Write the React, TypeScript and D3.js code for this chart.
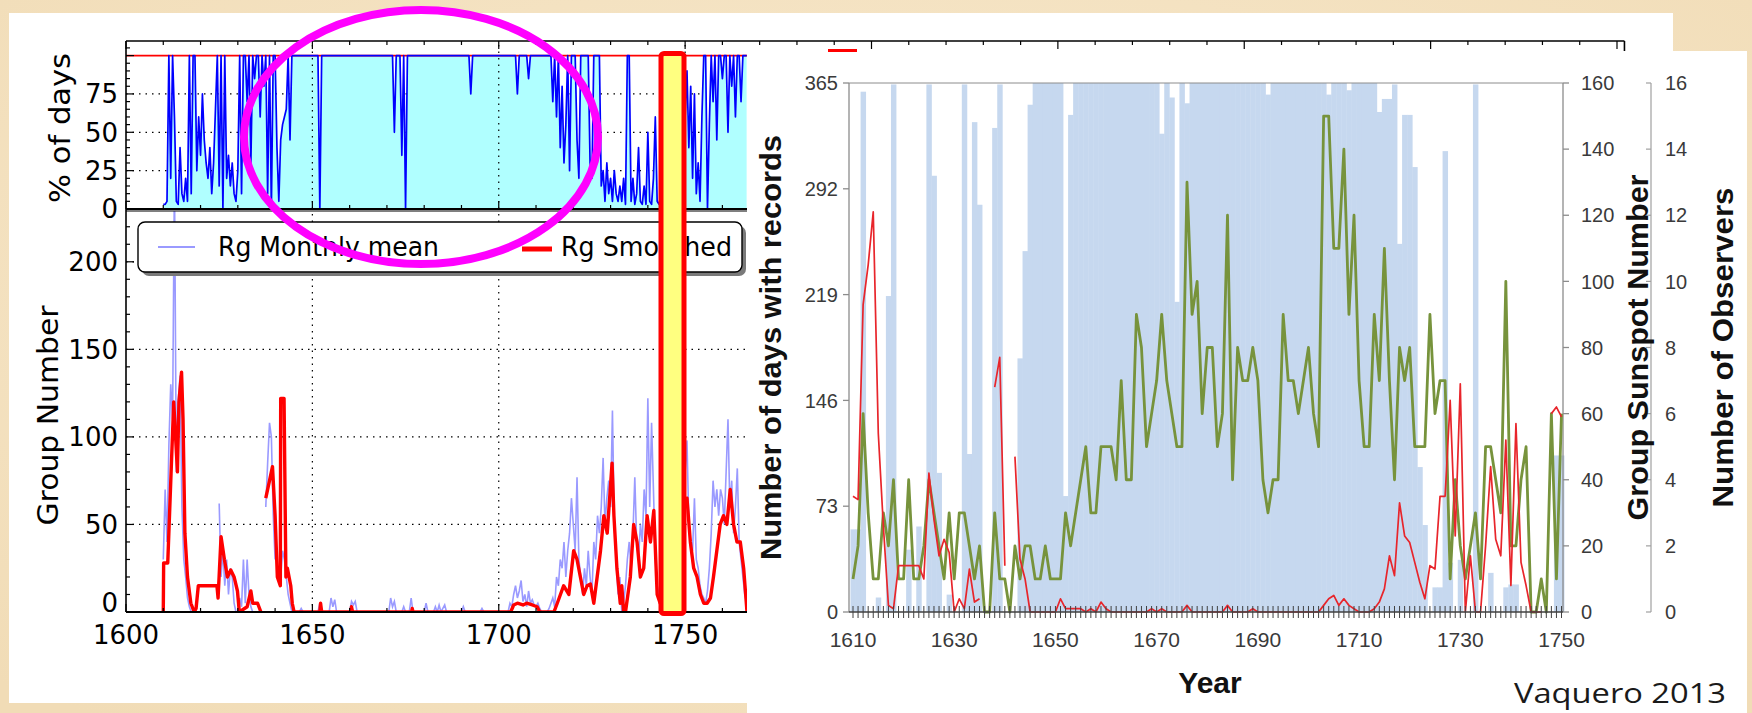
import React from "react";
import * as d3 from "d3";

// ================= LEFT CHART (Group number, 1600-1766) =================
const halfYear = 0.5;
const pctStartYear = 1610;
// % of days with observations, half-year samples from 1610.0
const pctDays: number[] = [
  3, 3, 5, 100, 20, 100, 60, 5, 3, 40, 10, 5, 20, 5, 100, 10, 100, 100, 25, 60,
  35, 75, 45, 30, 20, 40, 10, 30, 65, 100, 15, 100, 0, 100, 20, 35, 15, 30, 10, 5,
  25, 100, 10, 100, 100, 70, 100, 30, 100, 85, 100, 100, 60, 100, 80, 100, 10, 100, 0, 100,
  100, 40, 5, 45, 55, 60, 65, 100, 45, 100, 100, 100, 100, 100, 100, 100, 100, 100, 100, 100,
  100, 100, 100, 100, 0, 100, 100, 100, 100, 100, 100, 100, 100, 100, 100, 100, 100, 100, 100, 100,
  100, 100, 100, 100, 100, 100, 100, 100, 100, 100, 100, 100, 100, 100, 100, 100, 100, 100, 100, 100,
  100, 100, 100, 100, 50, 100, 100, 100, 35, 100, 0, 100, 100, 100, 100, 100, 100, 100, 100, 100,
  100, 100, 100, 100, 100, 100, 100, 100, 100, 100, 100, 100, 100, 100, 100, 100, 100, 100, 100, 100,
  100, 100, 100, 100, 100, 75, 100, 100, 100, 100, 100, 100, 100, 100, 100, 100, 100, 100, 100, 100,
  100, 100, 100, 100, 100, 100, 100, 100, 100, 100, 75, 100, 100, 100, 100, 100, 85, 100, 100, 100,
  100, 100, 100, 100, 100, 100, 100, 100, 100, 70, 100, 60, 100, 40, 80, 30, 55, 100, 25, 100,
  100, 100, 45, 20, 100, 100, 100, 100, 100, 30, 20, 100, 100, 100, 100, 15, 25, 5, 30, 10,
  20, 5, 25, 10, 5, 15, 5, 20, 3, 100, 100, 5, 20, 3, 10, 40, 5, 3, 15, 3,
  50, 5, 3, 20, 60, 5, 3, 10, 15, 10, 20, 5, 10, 15, 5, 20, 10, 15, 25, 10,
  60, 90, 40, 80, 20, 75, 10, 30, 5, 60, 100, 100, 0, 55, 100, 70, 100, 45, 100, 100,
  85, 100, 100, 50, 100, 80, 100, 60, 100, 100, 70, 100, 100, 100,
];

const rgStartYear = 1610;
// Rg monthly mean, sampled every half year from 1610.0 (null = no data)
const rgMonthly: (number | null)[] = [
  30, 70, 40, 95, 130, 110, 250, 80, 120, 135, 60, 30, 20, 8, 3, 0, 0, null, null, null,
  null, null, null, null, null, null, null, null, null, null, 62, 20, 35, 15, 30, 10, 25, 20, 5, 0,
  0, 8, 3, 30, 5, 30, 10, 3, 0, 0, 0, null, null, null, null, 60, 85, 108, 100, 55,
  30, null, null, 20, 35, 30, 20, 10, 5, 0, 0, 0, 0, 0, 2, 0, 0, 0, 0, 0,
  0, 0, 0, 0, 5, 0, 0, 0, 0, 0, 8, 3, 7, 0, 0, 0, 0, 0, 0, 0,
  0, 6, 4, 6, 0, 0, 0, 0, 0, 0, 0, 0, 0, 0, 0, 0, 0, 0, 0, 0,
  0, 0, 8, 3, 6, 0, 0, 0, 0, 3, 0, 0, 0, 8, 0, 0, 0, 0, 0, 0,
  0, 5, 0, 0, 0, 0, 3, 0, 4, 0, 2, 4, 0, 0, 0, 0, 0, 0, 0, 0,
  0, 3, 0, 0, 0, 0, 0, 0, 0, 0, 0, 2, 0, 0, 0, 0, 0, 0, 0, 0,
  0, 0, 0, 0, 0, 0, 5, 3, 10, 15, 8, 12, 18, 6, 10, 3, 12, 5, 7, 4,
  3, 5, 2, 0, 0, 0, 0, 2, 5, 8, 3, 20, 15, 30, 25, 40, 20, 35, 45, 65,
  50, 35, 77, 30, 20, 10, 25, 15, 35, 20, 10, 40, 30, 55, 45, 60, 88, 50, 65, 75,
  60, 115, 50, 30, 10, 20, 0, 5, 15, 30, 40, 25, 45, 77, 40, 30, 50, 40, 70, 55,
  122, 60, 108, 70, 30, 15, 10, 5, 20, 30, 45, 60, 70, 65, 80, 70, 75, 60, 85, 70,
  80, 98, 50, 40, 35, 65, 30, 25, 15, 10, 8, 5, 12, 25, 45, 75, 60, 70, 55, 70,
  65, 50, 80, 110, 60, 75, 45, 60, 82, 40, 30, 20, 10, 5,
];

// Rg smoothed (13-month) vertices; null marks a break in the curve
const rgSmoothYears: (number | null)[] = [
  1610.0, 1610.1, 1611.2, 1612.1, 1612.8, 1613.3, 1613.8, 1614.2, 1614.9, 1615.3, 1615.8, 1616.5,
  1617.4, 1618.3, 1618.8, 1619.4, 1624.4, 1624.7, 1625.5, 1626.4, 1627.2, 1628.1, 1629.0, 1629.9,
  1630.4, 1632.5, 1633.5, 1634.0, 1635.3, 1636.2, null,
  1637.5, 1638.5, 1639.3, 1640.0, 1640.6, 1641.4, 1641.5, 1642.4, 1642.9, 1643.3, 1644.2, 1644.6,
  1645.1, 1652.0, 1652.2, 1652.5, 1660.3, 1660.5, 1660.8, 1676.6, 1676.8, 1677.0, 1703.2, 1704.0,
  1705.0, 1706.5, 1707.5, 1709.0, 1710.3, 1711.0, 1714.8, 1715.7, 1717.4, 1718.8, 1720.1, 1721.0,
  1721.9, 1722.8, 1723.7, 1724.6, 1725.5, 1726.4, 1727.3, 1728.2, 1729.1, 1730.4, 1730.9, 1731.7,
  1732.6, 1733.0, 1733.5, 1734.0, 1735.3, 1736.2, 1737.1, 1738.0, 1738.9, 1739.8, 1740.7, 1741.6,
  1742.5, 1743.3, 1744.5, 1746.0, 1747.3, 1748.2, 1749.5, 1750.5, 1751.4, 1752.3, 1753.2, 1754.1,
  1755.0, 1755.9, 1756.8, 1757.6, 1758.5, 1759.4, 1760.3, 1761.2, 1762.1, 1763.0, 1763.9, 1764.8,
  1765.7, 1766.6,
];
const rgSmoothValues: (number | null)[] = [
  0, 28, 28, 80, 120, 100, 80, 120, 137, 110, 45, 20,
  5, 0, 2, 15, 15, 8, 43, 30, 20, 24, 20, 12,
  0, 3, 12, 5, 5, 0, null,
  65, 75, 83, 55, 20, 15, 122, 122, 20, 25, 15, 5,
  0, 0, 5, 0, 0, 3, 0, 0, 2, 0, 0, 4,
  5, 4, 5, 4, 3, 0, 0, 5, 15, 10, 35, 30,
  20, 10, 15, 16, 5, 20, 35, 55, 45, 85, 55, 25,
  5, 15, 0, 0, 20, 50, 40, 20, 25, 55, 40, 58,
  10, 5, 15, 30, 50, 62, 60, 65, 40, 25, 20, 10,
  5, 5, 8, 20, 35, 50, 55, 50, 70, 50, 40, 40,
  25, 0,
];

const leftYearTicks = [1600, 1650, 1700, 1750];
const pctTicks = [0, 25, 50, 75];
const rgTicks = [0, 50, 100, 150, 200];

// ================= RIGHT CHART (Vaquero 2013, 1610-1750) =================
const vqStartYear = 1610;
const daysWithRecords: number[] = [
  57, 57, 359, 0, 0, 10, 0, 218, 364, 0,
  0, 43, 0, 59, 0, 364, 301, 96, 0, 12,
  0, 0, 364, 109, 338, 281, 0, 0, 334, 364,
  0, 0, 0, 175, 249, 350, 365, 365, 365, 365,
  365, 365, 80, 343, 365, 365, 365, 365, 365, 365,
  365, 365, 365, 365, 365, 365, 365, 365, 365, 365,
  365, 330, 365, 355, 214, 365, 351, 365, 365, 365,
  365, 365, 365, 365, 365, 365, 365, 365, 365, 365,
  365, 365, 357, 365, 365, 365, 365, 365, 365, 365,
  365, 365, 365, 365, 357, 365, 365, 365, 360, 365,
  365, 365, 365, 365, 345, 354, 354, 364, 254, 343,
  343, 307, 100, 60, 0, 17, 17, 318, 34, 0,
  36, 0, 0, 364, 0, 0, 27, 0, 0, 17,
  19, 19, 0, 0, 0, 0, 0, 0, 0, 108,
  108,
];
const groupSunspot: (number | null)[] = [
  35, 34, 93, 105, 121, 54, 26, 2, 1, 14,
  14, 14, 14, 14, 10, 42, 28, 17, 22, 18,
  0, 4, 1, 13, 3, 4, null, null, 68, 77,
  14, null, 47, 16, 10, 0, 0, 0, 0, 0,
  0, 4, 1, 1, 1, 1, 0, 1, 0, 3,
  1, 0, 0, 0, 0, 0, 0, 0, 0, 1,
  0, 1, 0, 0, 0, 0, 2, 0, 0, 0,
  0, 0, 0, 0, 2, 0, 0, 0, 0, 1,
  0, 0, 0, 0, 0, 0, 0, 0, 0, 0,
  0, 0, 0, 2, 4, 5, 2, 4, 2, 1,
  0, 0, 0, 1, 3, 7, 17, 11, 33, 23,
  21, 15, 9, 4, 14, 13, 35, 35, 64, 23,
  69, 0, 17, 0, 0, 20, 44, 22, 17, 52,
  8, 57, 15, 8, 0, 0, 0, null, 60, 62,
  59,
];
const observers: number[] = [
  1, 2, 6, 3, 1, 1, 3, 2, 4, 1,
  1, 4, 1, 1, 2, 4, 3, 2, 1, 3,
  1, 3, 3, 2, 1, 2, 0, 0, 3, 1,
  1, 0, 2, 1, 2, 2, 1, 1, 2, 1,
  1, 1, 3, 2, 3, 4, 5, 3, 3, 5,
  5, 5, 4, 7, 4, 4, 9, 8, 5, 6,
  7, 9, 7, 6, 5, 5, 13, 9, 10, 6,
  8, 8, 5, 6, 12, 4, 8, 7, 7, 8,
  7, 4, 3, 4, 4, 9, 7, 7, 6, 7,
  8, 6, 5, 15, 15, 11, 11, 14, 9, 12,
  7, 5, 5, 9, 7, 11, 7, 4, 8, 7,
  8, 5, 5, 5, 9, 6, 7, 7, 1, 4,
  2, 1, 2, 3, 1, 5, 5, 4, 3, 10,
  2, 2, 4, 5, 0, 0, 1, 0, 6, 1,
  6,
];
const daysTicks = [0, 73, 146, 219, 292, 365];
const gsnTicks = [0, 20, 40, 60, 80, 100, 120, 140, 160];
const obsTicks = [0, 2, 4, 6, 8, 10, 12, 14, 16];
const vqYearTicks = [1610, 1630, 1650, 1670, 1690, 1710, 1730, 1750];

type P = { x: number; v: number | null };

export default function App() {
  const W = 1752;
  const H = 713;

  // ---------- left scales ----------
  const xL = d3.scaleLinear().domain([1600, 1766.6]).range([126, 747]);
  const yT = d3.scaleLinear().domain([0, 109.5]).range([209, 41]);
  const yB = d3.scaleLinear().domain([0, 229]).range([612, 211]);

  const pctPts: P[] = pctDays.map((v, i) => ({ x: pctStartYear + i * halfYear, v }));
  const areaT = d3
    .area<P>()
    .x((d) => xL(d.x))
    .y0(yT(0))
    .y1((d) => yT(d.v as number));
  const lineT = d3
    .line<P>()
    .x((d) => xL(d.x))
    .y((d) => yT(d.v as number));

  const rgPts: P[] = rgMonthly.map((v, i) => ({ x: rgStartYear + i * halfYear, v }));
  const lineRg = d3
    .line<P>()
    .defined((d) => d.v !== null)
    .x((d) => xL(d.x))
    .y((d) => yB(d.v as number));
  const smPts: P[] = rgSmoothYears.map((y, i) => ({ x: (y ?? 0) as number, v: y === null ? null : rgSmoothValues[i] }));

  const minorYears = d3.range(1600, 2003, 10);

  // ---------- right scales ----------
  const xR = d3.scaleLinear().domain([1610, 1750]).range([853, 1561.5]);
  const yD = d3.scaleLinear().domain([0, 365]).range([612, 83]);
  const yG = d3.scaleLinear().domain([0, 160]).range([612, 83]);
  const yO = d3.scaleLinear().domain([0, 16]).range([612, 83]);
  const bw = xR(1611) - xR(1610);

  const gsnPts: P[] = groupSunspot.map((v, i) => ({ x: vqStartYear + i, v }));
  const obsPts: P[] = observers.map((v, i) => ({ x: vqStartYear + i, v }));
  const lineG = d3
    .line<P>()
    .defined((d) => d.v !== null)
    .x((d) => xR(d.x))
    .y((d) => yG(d.v as number));
  const lineO = d3
    .line<P>()
    .x((d) => xR(d.x))
    .y((d) => yO(d.v as number));

  const mplFont = "'DejaVu Sans', sans-serif";
  const xlFont = "'Liberation Sans', Arial, sans-serif";
  const grid = { stroke: "#000", strokeWidth: 1.2, strokeDasharray: "1.5,5" };

  return (
    <svg
      width={W}
      height={H}
      viewBox={`0 0 ${W} ${H}`}
      style={{ position: "absolute", left: 0, top: 0, display: "block" }}
    >
      <defs>
        <radialGradient id="parch" cx="50%" cy="40%" r="75%">
          <stop offset="0%" stopColor="#f8ead0" />
          <stop offset="100%" stopColor="#f1dcb6" />
        </radialGradient>
        <clipPath id="clipTop">
          <rect x={xL(1600)} y={yT(109.5)} width={747 - xL(1600)} height={yT(0) - yT(109.5)} />
        </clipPath>
        <clipPath id="clipBot">
          <rect x={xL(1600)} y={yB(229)} width={747 - xL(1600)} height={yB(0) - yB(229)} />
        </clipPath>
      </defs>

      {/* parchment background */}
      <rect x={0} y={0} width={W} height={H} fill="url(#parch)" />
      {/* left figure sheet */}
      <rect x={9} y={13} width={1664} height={690} fill="#ffffff" />

      {/* ===== top panel: % of days ===== */}
      <g clipPath="url(#clipTop)">
        {pctTicks.slice(1).map((t) => (
          <line key={"gt" + t} x1={xL(1600)} x2={747} y1={yT(t)} y2={yT(t)} {...grid} />
        ))}
        <path d={areaT(pctPts) || ""} fill="#b0ffff" />
        {[1650, 1700, 1750].map((t) => (
          <line key={"gv" + t} x1={xL(t)} x2={xL(t)} y1={yT(0)} y2={yT(109.5)} {...grid} />
        ))}
        <line x1={xL(1600)} x2={747} y1={yT(100)} y2={yT(100)} stroke="#ff0000" strokeWidth={1.8} />
        <path d={lineT(pctPts) || ""} fill="none" stroke="#0000ff" strokeWidth={1.7} strokeLinejoin="round" />
      </g>
      {/* top panel frame */}
      <line x1={xL(1600)} x2={xL(2002)} y1={yT(109.5)} y2={yT(109.5)} stroke="#000" strokeWidth={1.6} />
      <line x1={xL(2002)} x2={xL(2002)} y1={yT(109.5)} y2={60} stroke="#000" strokeWidth={1.6} />
      <line x1={xL(1600)} x2={xL(1600)} y1={yT(109.5)} y2={yB(0)} stroke="#000" strokeWidth={1.6} />
      <line x1={xL(1600)} x2={747} y1={yT(0)} y2={yT(0)} stroke="#000" strokeWidth={1.8} />
      {minorYears.map((t) => (
        <g key={"tt" + t}>
          <line x1={xL(t)} x2={xL(t)} y1={yT(109.5)} y2={yT(109.5) + (t % 50 === 0 ? 8 : 4)} stroke="#000" strokeWidth={1.2} />
          {t <= 1766 && (
            <line x1={xL(t)} x2={xL(t)} y1={yT(0)} y2={yT(0) - (t % 50 === 0 ? 8 : 4)} stroke="#000" strokeWidth={1.2} />
          )}
        </g>
      ))}
      {d3.range(0, 106, 5).map((t) => (
        <line key={"ty" + t} x1={xL(1600)} x2={xL(1600) + (t % 25 === 0 ? 8 : 4)} y1={yT(t)} y2={yT(t)} stroke="#000" strokeWidth={1.2} />
      ))}
      {pctTicks.map((t) => (
        <text key={"tl" + t} x={118} y={yT(t)} dy="0.36em" textAnchor="end" fontFamily={mplFont} fontSize={26} fill="#000">
          {t}
        </text>
      ))}
      <text
        transform={`translate(70,${(yT(0) + yT(109.5)) / 2 + 3}) rotate(-90)`}
        textAnchor="middle"
        fontFamily={mplFont}
        fontSize={29}
        textLength={150}
        lengthAdjust="spacingAndGlyphs"
        fill="#000"
      >
        % of days
      </text>

      {/* ===== bottom panel: Group Number ===== */}
      <g clipPath="url(#clipBot)">
        {rgTicks.slice(1).map((t) => (
          <line key={"gb" + t} x1={xL(1600)} x2={747} y1={yB(t)} y2={yB(t)} {...grid} />
        ))}
        {[1650, 1700, 1750].map((t) => (
          <line key={"gbv" + t} x1={xL(t)} x2={xL(t)} y1={yB(0)} y2={yB(229)} {...grid} />
        ))}
        <path d={lineRg(rgPts) || ""} fill="none" stroke="#9a9aff" strokeWidth={1.6} />
        <path d={lineRg(smPts) || ""} fill="none" stroke="#ff0000" strokeWidth={3.4} strokeLinejoin="round" />
      </g>
      <line x1={xL(1600)} x2={747} y1={yB(229)} y2={yB(229)} stroke="#000" strokeWidth={1.2} />
      <line x1={xL(1600)} x2={747} y1={yB(0)} y2={yB(0)} stroke="#000" strokeWidth={1.8} />
      {minorYears
        .filter((t) => t <= 1766)
        .map((t) => (
          <line key={"bt" + t} x1={xL(t)} x2={xL(t)} y1={yB(0)} y2={yB(0) - (t % 50 === 0 ? 8 : 4)} stroke="#000" strokeWidth={1.2} />
        ))}
      {d3.range(0, 226, 10).map((t) => (
        <line key={"by" + t} x1={xL(1600)} x2={xL(1600) + (t % 50 === 0 ? 8 : 4)} y1={yB(t)} y2={yB(t)} stroke="#000" strokeWidth={1.2} />
      ))}
      {rgTicks.map((t) => (
        <text key={"bl" + t} x={118} y={yB(t) - (t === 0 ? 9 : 0)} dy="0.36em" textAnchor="end" fontFamily={mplFont} fontSize={26} fill="#000">
          {t}
        </text>
      ))}
      {leftYearTicks.map((t) => (
        <text key={"xl" + t} x={xL(t)} y={644} textAnchor="middle" fontFamily={mplFont} fontSize={26} fill="#000">
          {t}
        </text>
      ))}
      <text
        transform={`translate(58,${(yB(0) + yB(229)) / 2 + 4}) rotate(-90)`}
        textAnchor="middle"
        fontFamily={mplFont}
        fontSize={29}
        textLength={220}
        lengthAdjust="spacingAndGlyphs"
        fill="#000"
      >
        Group Number
      </text>

      {/* legend */}
      <rect x={142} y={226} width={604} height={50} rx={7} fill="#7a7a7a" />
      <rect x={138} y={222} width={604} height={50} rx={7} fill="#ffffff" stroke="#000" strokeWidth={1.4} />
      <line x1={158} x2={195} y1={247} y2={247} stroke="#9a9aff" strokeWidth={2} />
      <text x={218} y={256} fontFamily={mplFont} fontSize={26} textLength={221} lengthAdjust="spacingAndGlyphs" fill="#000">
        Rg Monthly mean
      </text>
      <line x1={522} x2={552} y1={249} y2={249} stroke="#ff0000" strokeWidth={5} />
      <text x={561} y={256} fontFamily={mplFont} fontSize={26} textLength={171} lengthAdjust="spacingAndGlyphs" fill="#000">
        Rg Smoothed
      </text>

      {/* highlight box over 1744-1750 */}
      <rect x={661} y={53.5} width={23} height={560} rx={3} fill="#ffff80" stroke="#ff0000" strokeWidth={5} />

      {/* ================= RIGHT CHART SHEET ================= */}
      <rect x={747} y={51} width={1000} height={662} fill="#ffffff" />
      <line x1={828} x2={857} y1={50.5} y2={50.5} stroke="#ff0000" strokeWidth={3} />

      {/* bars */}
      {daysWithRecords.map((v, i) =>
        v > 0 ? (
          <rect
            key={"bar" + i}
            x={xR(vqStartYear + i) - bw / 2}
            y={yD(v)}
            width={bw + 0.4}
            height={yD(0) - yD(v)}
            fill="#c6d8ef"
          />
        ) : null
      )}
      {/* axes */}
      <line x1={849} x2={1563} y1={83} y2={83} stroke="#8c8c8c" strokeWidth={1} />
      <line x1={849} x2={849} y1={83} y2={612} stroke="#8c8c8c" strokeWidth={1.3} />
      {daysTicks.map((t) => (
        <g key={"dt" + t}>
          <line x1={843} x2={849} y1={yD(t)} y2={yD(t)} stroke="#8c8c8c" strokeWidth={1.3} />
          <text x={838} y={yD(t)} dy="0.36em" textAnchor="end" fontFamily={xlFont} fontSize={20} fill="#3a3a3a">
            {t}
          </text>
        </g>
      ))}
      <line x1={1563} x2={1563} y1={83} y2={612} stroke="#8c8c8c" strokeWidth={1.3} />
      {gsnTicks.map((t) => (
        <g key={"gt" + t}>
          <line x1={1563} x2={1569} y1={yG(t)} y2={yG(t)} stroke="#8c8c8c" strokeWidth={1.3} />
          <text x={1581} y={yG(t)} dy="0.36em" textAnchor="start" fontFamily={xlFont} fontSize={20} fill="#3a3a3a">
            {t}
          </text>
        </g>
      ))}
      <line x1={1651} x2={1651} y1={83} y2={612} stroke="#a0a0a0" strokeWidth={1.2} />
      {obsTicks.map((t) => (
        <g key={"ot" + t}>
          <line x1={1646} x2={1651} y1={yO(t)} y2={yO(t)} stroke="#a0a0a0" strokeWidth={1.2} />
          <text x={1665} y={yO(t)} dy="0.36em" textAnchor="start" fontFamily={xlFont} fontSize={20} fill="#3a3a3a">
            {t}
          </text>
        </g>
      ))}

      {/* lines */}
      <path d={lineO(obsPts) || ""} fill="none" stroke="#77933c" strokeWidth={2.8} strokeLinejoin="round" />
      <path d={lineG(gsnPts) || ""} fill="none" stroke="#e8252b" strokeWidth={1.7} strokeLinejoin="round" />

      {/* x axis with yearly ticks */}
      <line x1={849} x2={1563} y1={612} y2={612} stroke="#404040" strokeWidth={1.6} />
      {d3.range(1610, 1751, 1).map((t) => (
        <line key={"yt" + t} x1={xR(t)} x2={xR(t)} y1={606} y2={618} stroke="#404040" strokeWidth={1} />
      ))}
      {vqYearTicks.map((t) => (
        <text key={"yl" + t} x={xR(t)} y={647} textAnchor="middle" fontFamily={xlFont} fontSize={21} fill="#3a3a3a">
          {t}
        </text>
      ))}

      {/* axis titles */}
      <text
        transform={`translate(781,${(83 + 612) / 2}) rotate(-90)`}
        textAnchor="middle"
        fontFamily={xlFont}
        fontWeight="bold"
        fontSize={30}
        textLength={425}
        lengthAdjust="spacingAndGlyphs"
        fill="#111"
      >
        Number of days with records
      </text>
      <text
        transform={`translate(1648,${(83 + 612) / 2}) rotate(-90)`}
        textAnchor="middle"
        fontFamily={xlFont}
        fontWeight="bold"
        fontSize={30}
        textLength={346}
        lengthAdjust="spacingAndGlyphs"
        fill="#111"
      >
        Group Sunspot Number
      </text>
      <text
        transform={`translate(1733,${(83 + 612) / 2}) rotate(-90)`}
        textAnchor="middle"
        fontFamily={xlFont}
        fontWeight="bold"
        fontSize={30}
        textLength={320}
        lengthAdjust="spacingAndGlyphs"
        fill="#111"
      >
        Number of Observers
      </text>
      <text x={1210} y={693} textAnchor="middle" fontFamily={xlFont} fontWeight="bold" fontSize={30} fill="#111">
        Year
      </text>
      <text x={1514} y={703} fontFamily="'Open Sans', sans-serif" fontSize={28} textLength={212} lengthAdjust="spacingAndGlyphs" fill="#1a1a1a">
        Vaquero 2013
      </text>

      {/* magenta annotation ellipse */}
      <ellipse cx={421} cy={137} rx={177} ry={127} fill="none" stroke="#ff00ff" strokeWidth={8} />
    </svg>
  );
}
